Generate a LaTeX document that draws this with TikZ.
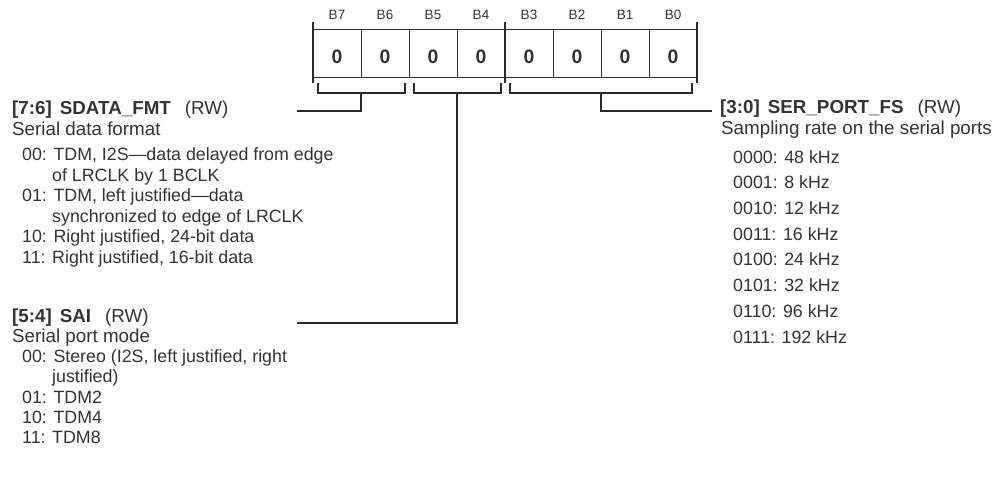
\documentclass[tikz,border=0pt]{standalone}
\usepackage{fontspec}
\setmainfont{Liberation Sans}
\definecolor{txt}{HTML}{333333}
\definecolor{ln}{HTML}{2A2A2A}
\tikzset{
  head/.style={anchor=base west, inner sep=0pt, font=\fontsize{18.8}{20}\selectfont, text=txt},
  item/.style={anchor=base west, inner sep=0pt, font=\fontsize{17.8}{20}\selectfont, text=txt},
  blabel/.style={anchor=base, inner sep=0pt, font=\fontsize{13.5}{15}\selectfont, text=txt},
  bitval/.style={anchor=base, inner sep=0pt, font=\bfseries\fontsize{19.5}{21}\selectfont, text=txt},
  cell/.style={draw=ln, line width=1pt, minimum width=48pt, minimum height=48pt, inner sep=0pt},
  wire/.style={draw=ln, line width=1.1pt},
}
\begin{document}
\begin{tikzpicture}[x=1pt,y=-1pt]
\useasboundingbox (0,0) rectangle (1002,480);
% register cells
\foreach \i in {7,...,0}{
  \pgfmathsetmacro{\cx}{337+48*(7-\i)}
  \node[cell] (c\i) at (\cx,53) {};
  \node[blabel] (b\i) at (\cx,19.8) {B\i};
  \node[bitval] (v\i) at (\cx,63) {0};
}
% ticks
\draw[wire] (313,22) -- (313,83);
\draw[wire] (505,22) -- (505,83);
\draw[wire] (697,22) -- (697,83);
% brackets
\draw[wire] (318,83) -- (318,93) -- (405,93) -- (405,83);
\draw[wire] (414,83) -- (414,93) -- (501,93) -- (501,83);
\draw[wire] (510,83) -- (510,93) -- (692,93) -- (692,83);
\coordinate (s1) at (361,93);
\coordinate (s2) at (457,93);
\coordinate (s3) at (601,93);
\coordinate (e1) at (297,111);
\coordinate (e2) at (297,323);
\coordinate (e3) at (712,111);
\draw[wire] (s1) |- (e1);
\draw[wire] (s2) |- (e2);
\draw[wire] (s3) |- (e3);
% SDATA_FMT
\node[head] (h1) at (12,114.7) {{\bfseries [7:6]\hspace{8pt}SDATA\_FMT}\hspace{14pt}(RW)};
\node[head] (h1d) at (12,135.7) {Serial data format};
\node[item] (h1a) at (22,160.5) {00: TDM, I2S—data delayed from edge};
\node[item] (h1b) at (52,181) {of LRCLK by 1 BCLK};
\node[item] (h1c) at (22,201.5) {01: TDM, left justified—data};
\node[item] (h1e) at (52,222) {synchronized to edge of LRCLK};
\node[item] (h1f) at (22,242.5) {10: Right justified, 24-bit data};
\node[item] (h1g) at (22,263) {11: Right justified, 16-bit data};
% SAI
\node[head] (h2) at (12,322.7) {{\bfseries [5:4]\hspace{8pt}SAI}\hspace{14pt}(RW)};
\node[head] (h2d) at (12,342.2) {Serial port mode};
\node[item] (h2a) at (22,362.4) {00: Stereo (I2S, left justified, right};
\node[item] (h2b) at (52,382.7) {justified)};
\node[item] (h2c) at (22,403) {01: TDM2};
\node[item] (h2e) at (22,423.3) {10: TDM4};
\node[item] (h2f) at (22,443.6) {11: TDM8};
% SER_PORT_FS
\node[head] (h3) at (720,113.7) {{\bfseries [3:0]\hspace{8pt}SER\_PORT\_FS}\hspace{14pt}(RW)};
\node[head] (h3d) at (721,134.7) {Sampling rate on the serial ports};
\foreach \t [count=\k from 0] in {0000: 48 kHz,0001: 8 kHz,0010: 12 kHz,0011: 16 kHz,0100: 24 kHz,0101: 32 kHz,0110: 96 kHz,0111: 192 kHz}{
  \node[item] (r\k) at (733,163.1+25.7*\k) {\t};
}
\end{tikzpicture}
\end{document}
